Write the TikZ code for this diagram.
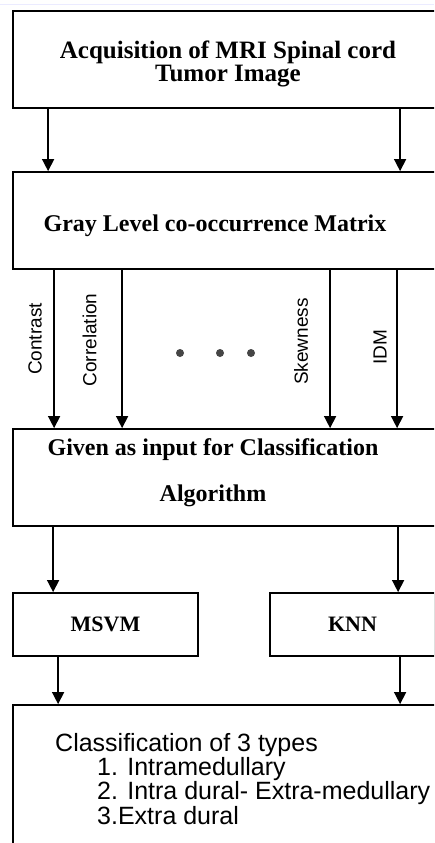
\documentclass[tikz,border=0pt]{standalone}
\usepackage{fontspec}
\setmainfont{Liberation Serif}
\setsansfont{Liberation Sans}
\usetikzlibrary{arrows.meta}
\definecolor{dotgray}{HTML}{454545}
\tikzset{
	box/.style={draw, line width=1.8pt, inner sep=0pt},
	arr/.style={line width=1.5pt, -{Triangle[width=12pt,length=12pt]}},
	boxtext/.style={font=\bfseries\fontsize{25}{23}\selectfont, align=center, inner sep=0pt},
	algotext/.style={font=\bfseries\fontsize{22}{26}\selectfont},
	feat/.style={font=\sffamily\fontsize{19}{22}\selectfont, rotate=90, inner sep=0pt},
	types/.style={font=\sffamily\fontsize{25}{23.3}\selectfont, align=left, inner sep=0pt, anchor=north west}
}
\begin{document}
\begin{tikzpicture}[x=1pt,y=-1pt]
	\useasboundingbox (0,0) rectangle (434,843);
	\clip (0,0) rectangle (434,843);
	\draw[blue!8, line width=1pt] (0,5) -- (434,5);

	\node[box, minimum width=430pt, minimum height=97pt] (acq) at (228,59.5) {};
	\node[boxtext] (acqtxt) at (228,64) {Acquisition of MRI Spinal cord\\Tumor Image};

	\node[box, minimum width=430pt, minimum height=97pt] (gray) at (228,220.5) {};
	\node[boxtext, font=\bfseries\fontsize{24}{23}\selectfont] (graytxt) at (215,226) {Gray Level co-occurrence Matrix};

	\node[box, minimum width=430pt, minimum height=97pt] (given) at (228,477.5) {};
	\node[boxtext, font=\bfseries\fontsize{24}{23}\selectfont] (giventxt) at (213,473) {Given as input for Classification\\[23pt]Algorithm};

	\node[box, algotext, minimum width=185pt, minimum height=63pt] (msvm) at (105.5,624.5) {MSVM};
	\node[box, algotext, minimum width=165pt, minimum height=63pt] (knn) at (352.5,624.5) {KNN};

	\node[box, minimum width=430pt, minimum height=195pt] (result) at (228,802.5) {};
	\node[types] (resulttxt) at (55,733) {Classification of 3 types\\
		\hspace*{42pt}1. Intramedullary\\
		\hspace*{42pt}2. Intra dural- Extra-medullary\\
		\hspace*{42pt}3.Extra dural};

	\draw[arr] ([xshift=36pt]acq.south west) -- ([xshift=36pt]acq.south west |- gray.north);
	\draw[arr] ([xshift=388pt]acq.south west) -- ([xshift=388pt]acq.south west |- gray.north);

	\foreach \dx in {42,110,318,385}
		{
		\draw[arr] ([xshift=\dx pt]gray.south west) -- ([xshift=\dx pt]gray.south west |- given.north);
		}
	\node[feat] (contrast) at (35,339) {Contrast};
	\node[feat] (correlation) at (89.5,340) {Correlation};
	\node[feat] (skewness) at (301,341.5) {Skewness};
	\node[feat] (idm) at (380,347.5) {IDM};
	\foreach \x in {180,220,251}
		{
		\fill[dotgray] (\x,353) circle (4pt);
		}

	\draw[arr] ([xshift=41pt]given.south west) -- ([xshift=41pt]given.south west |- msvm.north);
	\draw[arr] ([xshift=386pt]given.south west) -- ([xshift=386pt]given.south west |- knn.north);
	\draw[arr] ([xshift=46pt]msvm.south west) -- ([xshift=46pt]msvm.south west |- result.north);
	\draw[arr] ([xshift=131pt]knn.south west) -- ([xshift=131pt]knn.south west |- result.north);
\end{tikzpicture}
\end{document}
